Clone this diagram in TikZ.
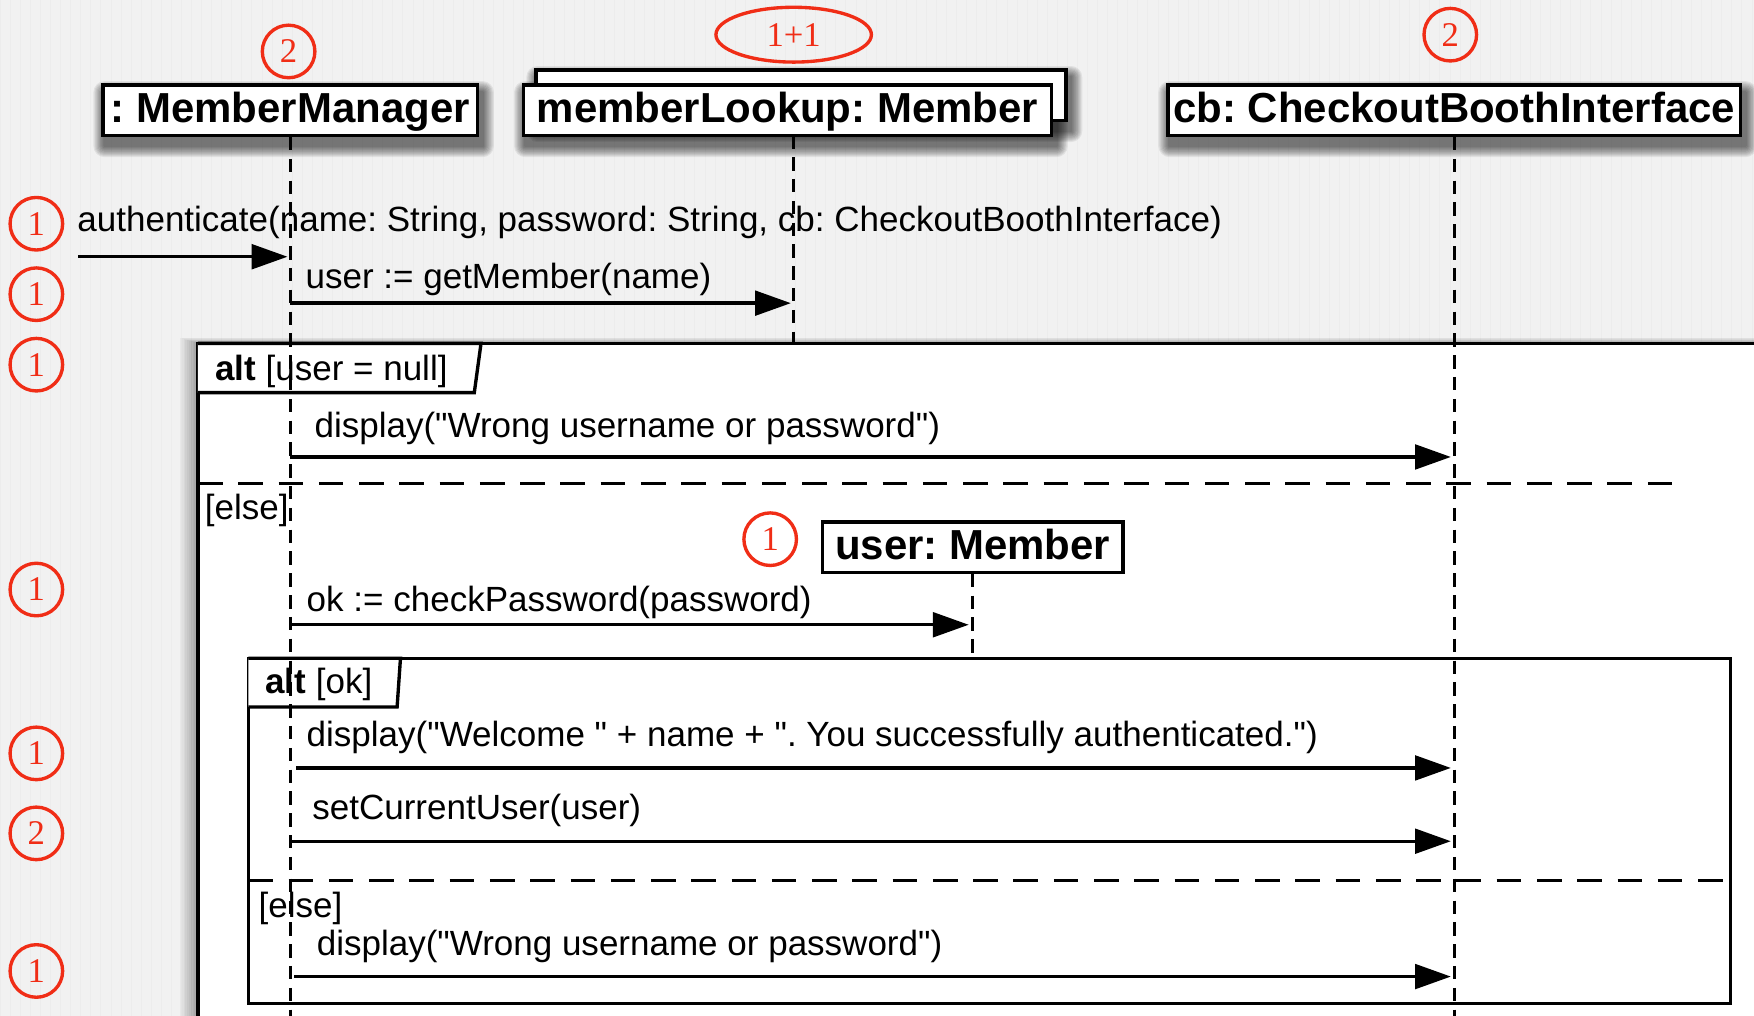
\documentclass[tikz,border=0pt]{standalone}
\usepackage{fontspec}
\setmainfont{Liberation Sans}[Ligatures=TeXOff]
\newfontfamily\serifnum{Liberation Serif}
\usetikzlibrary{arrows.meta,shapes.geometric}
\definecolor{bggray}{RGB}{241,241,241}
\definecolor{gridgray}{RGB}{236,236,236}
\definecolor{markred}{RGB}{240,45,22}
\pgfdeclarelayer{bg}
\pgfdeclarelayer{shad}
\pgfsetlayers{bg,shad,main}
\newcommand\mkshadow[1]{%
  \begin{pgfonlayer}{shad}
    \foreach \i in {1,...,10}{%
      \fill[black,opacity=0.065,rounded corners=\i pt]
        ([shift={(-\i+3,-\i+8)}]#1.north west) rectangle ([shift={(\i+3,\i+8)}]#1.south east);}
  \end{pgfonlayer}}
\frenchspacing
\begin{document}
\frenchspacing
\begin{tikzpicture}[x=1pt,y=-1pt,
  obj/.style={draw, line width=3pt, fill=white, font=\fontsize{37.5}{40}\selectfont\bfseries,
    text height=28pt, text depth=6pt, inner xsep=0pt, inner ysep=5.5pt, minimum height=45pt},
  msgtext/.style={anchor=base west, inner sep=0pt, font=\fontsize{31.3}{34}\selectfont},
  msg/.style={line width=3pt, -{Triangle[length=32pt,width=22pt]}},
  lifeline/.style={line width=2.5pt, dash pattern=on 12pt off 7.5pt},
  sepline/.style={line width=3pt, dash pattern=on 22pt off 14pt},
  framel/.style={line width=3pt},
  num/.style={circle, draw=markred, line width=3pt, text=markred, minimum size=47pt, inner sep=0pt,
    font=\serifnum\fontsize{31}{31}\selectfont},
]
\useasboundingbox (0,0) rectangle (1568,908);
\clip (0,0) rectangle (1568,908);
\begin{pgfonlayer}{bg}
  \fill[bggray] (0,0) rectangle (1568,908);
  \draw[gridgray, line width=0.4pt, step=9] (0,0) grid (1568,908);
\end{pgfonlayer}

% outer alt frame with shadow
\begin{pgfonlayer}{shad}
  \foreach \i in {1,...,10}{%
    \fill[black,opacity=0.035] (177-1.6*\i,307-0.5*\i) rectangle (1600,950);}
\end{pgfonlayer}
\fill[white] (177,307) rectangle (1600,950);
\draw[framel] (1600,307) -- (177,307) -- (177,950);
\draw[sepline] (177,432.5) -- (1505,432.5);
\draw[framel, fill=white] (177,307) -- (430,307) -- (424,351) -- (177,351);

% inner alt frame
\draw[framel] (222,588.5) rectangle (1547,897);
\draw[sepline] (222,787) -- (1547,787);
\draw[framel, fill=white] (222,588.5) -- (358,588.5) -- (355,632) -- (222,632);

% texts
\node[msgtext] (t1) at (69,207) {authenticate(name: String, password: String, cb: CheckoutBoothInterface)};
\node[msgtext] (t2) at (273,258) {user := getMember(name)};
\node[msgtext] (l1) at (192,340) {\textbf{alt} [user = null]};
\node[msgtext] (t3) at (281,391) {display("Wrong username or password")};
\node[msgtext] (e1) at (183,464) {[else]};
\node[msgtext] (t4) at (274,547) {ok := checkPassword(password)};
\node[msgtext] (l2) at (237,620) {\textbf{alt} [ok]};
\node[msgtext] (t5) at (274,667) {display("Welcome " + name + ". You successfully authenticated.")};
\node[msgtext] (t6) at (279,733) {setCurrentUser(user)};
\node[msgtext] (e2) at (231,820) {[else]};
\node[msgtext] (t7) at (283,854) {display("Wrong username or password")};

% objects
\node[obj, minimum width=335pt] (mm) at (259.5,98.5) {: MemberManager};
\node[obj, minimum width=474pt, minimum height=44pt] (mlb) at (716,85) {};
\node[obj, minimum width=472pt] (ml) at (704,98.5) {memberLookup: Member};
\node[obj, minimum width=512pt] (cb) at (1300,98.5) {cb: CheckoutBoothInterface};
\node[obj, minimum width=269pt] (um) at (869.5,489) {user: Member};
\mkshadow{mm}
\mkshadow{mlb}
\mkshadow{ml}
\mkshadow{cb}

% lifelines
\coordinate (mmEnd) at (259.5,915);
\coordinate (mlTop) at (709,121);
\coordinate (mlEnd) at (709,310);
\coordinate (cbEnd) at (1300,915);
\coordinate (umEnd) at (869.5,588);
\draw[lifeline] (mm.south) -- (mmEnd);
\draw[lifeline] (mlTop) -- (mlEnd);
\draw[lifeline] (cb.south) -- (cbEnd);
\draw[lifeline] (um.south) -- (umEnd);

% messages
\coordinate (m0s) at (70,229.5);   \coordinate (m0e) at (257,229.5);
\coordinate (m1s) at (259,271);    \coordinate (m1e) at (707,271);
\coordinate (m2s) at (259,408.5);  \coordinate (m2e) at (1297,408.5);
\coordinate (m3s) at (259,558.5);  \coordinate (m3e) at (866,558.5);
\coordinate (m4s) at (265,686.5);  \coordinate (m4e) at (1297,686.5);
\coordinate (m5s) at (261,752);    \coordinate (m5e) at (1297,752);
\coordinate (m6s) at (263,873);    \coordinate (m6e) at (1297,873);
\draw[msg] (m0s) -- (m0e);
\draw[msg] (m1s) -- (m1e);
\draw[msg] (m2s) -- (m2e);
\draw[msg] (m3s) -- (m3e);
\draw[msg] (m4s) -- (m4e);
\draw[msg] (m5s) -- (m5e);
\draw[msg] (m6s) -- (m6e);

% red marks
\node[num] (c0) at (258,46) {2};
\node[ellipse, draw=markred, line width=3pt, text=markred, minimum width=139pt, minimum height=49pt,
  inner sep=0pt, font=\serifnum\fontsize{31}{31}\selectfont] (c1) at (709.5,31) {1+1};
\node[num] (c2) at (1296.5,31) {2};
\node[num] (r1) at (32.5,200) {1};
\node[num] (r2) at (32.5,263) {1};
\node[num] (r3) at (32.5,326) {1};
\node[num] (r4) at (32.5,527) {1};
\node[num] (r5) at (32.5,673.5) {1};
\node[num] (r6) at (32.5,745) {2};
\node[num] (r7) at (32.5,868) {1};
\node[num] (r8) at (688.5,482) {1};
\end{tikzpicture}
\end{document}
